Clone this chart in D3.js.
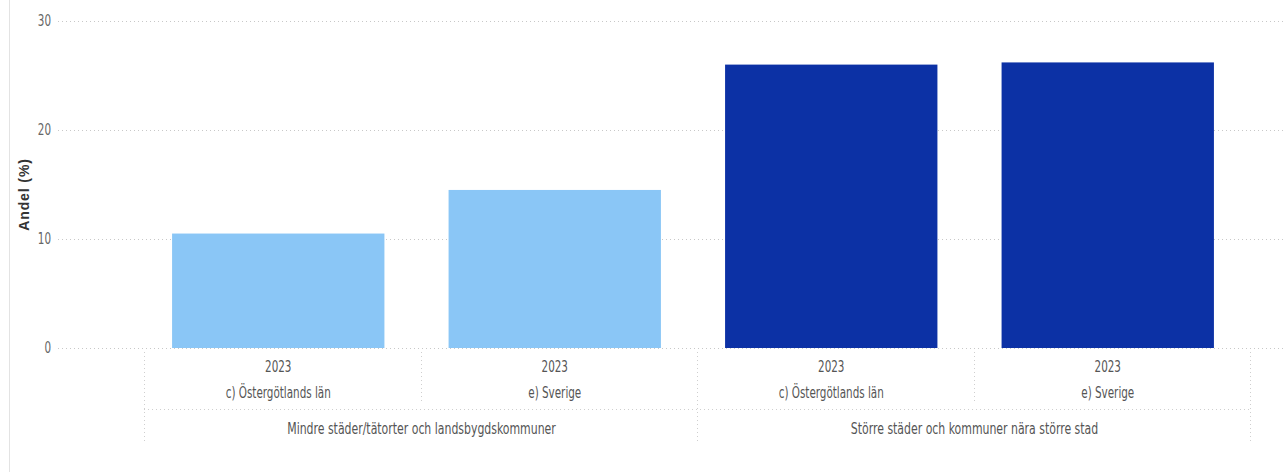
<!DOCTYPE html>
<html><head><meta charset="utf-8">
<script src="https://cdn.jsdelivr.net/npm/d3@7"></script>
<style>
html,body{margin:0;padding:0;background:#fff;}
svg{display:block;}
text{font-family:"DejaVu Sans Condensed","Liberation Sans Narrow","Open Sans",sans-serif;}
</style></head>
<body>
<svg id="chart" width="1286" height="472"></svg>
<script>
const groups = ["Mindre städer/tätorter och landsbygdskommuner", "Större städer och kommuner nära större stad"];
const regions = ["c) Östergötlands län", "e) Sverige", "c) Östergötlands län", "e) Sverige"];
const years = ["2023", "2023", "2023", "2023"];
const barGroup = [0, 0, 1, 1];
const values = [10.5, 14.5, 26.0, 26.2];
const groupColors = ["#8AC6F6", "#0C31A5"];
const yTicks = [0, 10, 20, 30];
const yTitle = "Andel (%)";

const svg = d3.select("#chart");
const W = 1286, H = 472;
const plot = {left: 58, right: 1286, top: 21, bottom: 348};
const bandLeft = 144, bandRight = 1250;
const SX = 0.77;

svg.append("line").attr("x1",9.5).attr("x2",9.5).attr("y1",0).attr("y2",H)
  .attr("stroke","#e3e3e3").attr("stroke-width",1);

const y = d3.scaleLinear().domain([0,30]).range([plot.bottom, plot.top]);
const idx = d3.range(values.length);
const x = d3.scaleBand().domain(idx).range([bandLeft - 4, bandRight - 4]).paddingInner(0.232).paddingOuter(0.116);
const xOuter = d3.scaleBand().domain(idx).range([bandLeft, bandRight]);
const gx = d3.scaleBand().domain(d3.range(groups.length)).range([bandLeft, bandRight]);

const grid = svg.append("g");
grid.selectAll("line").data(yTicks).join("line")
  .attr("x1", plot.left).attr("x2", plot.right)
  .attr("y1", d => Math.round(y(d)) + 0.5).attr("y2", d => Math.round(y(d)) + 0.5)
  .attr("stroke", "#c8c8c8").attr("stroke-width", 1).attr("stroke-dasharray", "1,3");

const yAxis = d3.axisLeft(y).tickValues(yTicks).tickSize(0).tickPadding(0).tickFormat(d3.format("d"));
const ya = svg.append("g").attr("transform", "translate(51,0)").call(yAxis);
ya.select(".domain").remove();
ya.selectAll("text").attr("fill", "#666").attr("font-size", 15)
  .attr("transform", `scale(${SX},1)`).attr("x", 0)
  .style("font-family", '"DejaVu Sans Condensed",sans-serif');
ya.selectAll(".tick").attr("transform", d => `translate(0,${y(d)})`);

svg.append("text").attr("transform", `translate(29,${(plot.top+plot.bottom)/2 + 10}) rotate(-90)`)
  .attr("text-anchor","middle").attr("font-size",14).attr("font-weight","bold")
  .attr("letter-spacing","0.9").attr("fill","#333")
  .style("font-family",'"Liberation Sans","Open Sans",sans-serif')
  .text(yTitle);

svg.append("g").selectAll("rect").data(idx).join("rect")
  .attr("x", i => x(i)).attr("width", x.bandwidth())
  .attr("y", i => y(values[i])).attr("height", i => y(0) - y(values[i]))
  .attr("fill", i => groupColors[barGroup[i]]);

const lines = svg.append("g").attr("stroke","#cfcfcf").attr("stroke-width",1).attr("stroke-dasharray","1,3");
idx.forEach(i => {
  const xx = Math.round(xOuter(i)) + 0.5;
  const isGroupEdge = (i === 0) || barGroup[i] !== barGroup[i-1];
  lines.append("line").attr("x1",xx).attr("x2",xx).attr("y1",352).attr("y2", isGroupEdge ? 444 : 402);
});
lines.append("line").attr("x1",bandRight+0.5).attr("x2",bandRight+0.5).attr("y1",352).attr("y2",444);
lines.append("line").attr("x1",bandLeft).attr("x2",bandRight).attr("y1",409.5).attr("y2",409.5);

const labs = svg.append("g").attr("fill","#555").attr("font-size",15).attr("text-anchor","middle");
function lab(cx, yy, t, sx) {
  labs.append("text").attr("transform", `translate(${cx},${yy}) scale(${sx},1)`).text(t);
}
idx.forEach(i => {
  const cx = xOuter(i) + xOuter.bandwidth()/2 - 4;
  lab(cx, 372, years[i], SX);
  lab(cx, 398, regions[i], SX);
});
groups.forEach((g,j) => lab(gx(j) + gx.bandwidth()/2 + 1, 434, g, 0.81));
</script>
</body></html>
